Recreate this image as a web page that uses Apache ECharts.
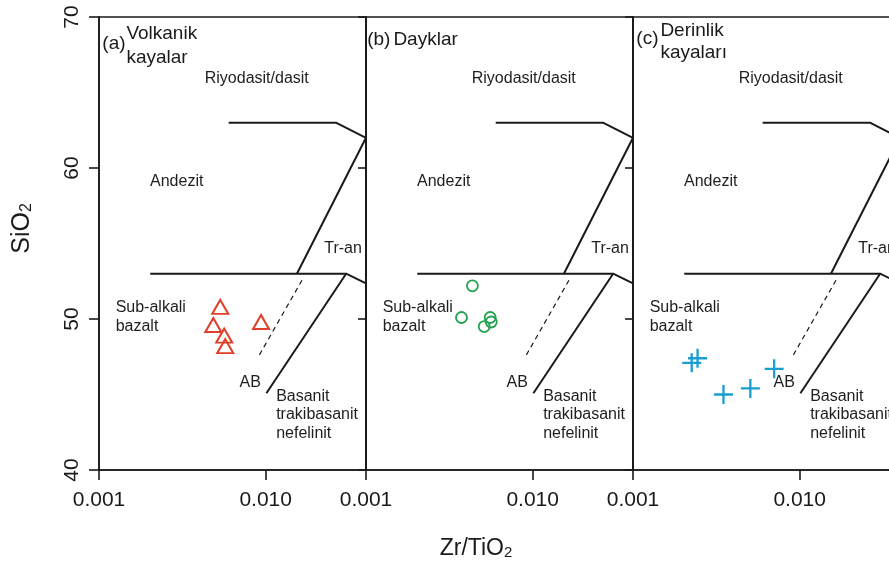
<!DOCTYPE html>
<html>
<head>
<meta charset="utf-8">
<script src="https://cdn.jsdelivr.net/npm/echarts@6/dist/echarts.min.js"></script>
<style>
  html, body { margin: 0; padding: 0; background: #fff; }
  #main { width: 889px; height: 564px; }
</style>
</head>
<body>
<div id="main"></div>
<script>
// Zr/TiO2 - SiO2 diyagramı (Winchester & Floyd), üç panel

// örnek verileri (Zr/TiO2, SiO2)
var volkanikZr = [0.00534, 0.00485, 0.00564, 0.00572, 0.00938];
var volkanikSi = [50.8, 49.6, 48.9, 48.2, 49.8];
var dayklarZr = [0.00435, 0.00374, 0.00556, 0.00564, 0.00512];
var dayklarSi = [52.2, 50.1, 50.1, 49.8, 49.5];
var derinlikZr = [0.00225, 0.00244, 0.00349, 0.00506, 0.00703];
var derinlikSi = [47.1, 47.4, 45.0, 45.4, 46.7];

// sınır çizgileri [Zr/TiO2, SiO2]
var upperLine = [[0.006, 63], [0.0264, 63], [0.04, 62], [0.0154, 53]];
var lowerLine = [[0.00203, 53], [0.0304, 53], [0.04, 52.36]];
var abLine = [[0.0304, 53], [0.0101, 45.08]];
var dashLine = [[0.01652, 52.57], [0.00904, 47.5]];

// alan adları
var regionNames = ['Riyodasit/dasit', 'Andezit', 'Tr-an', 'Sub-alkali', 'bazalt', 'AB', 'Basanit', 'trakibasanit', 'nefelinit'];
var regionZr = [0.00428, 0.00201, 0.0223, 0.00125, 0.00125, 0.00693, 0.01148, 0.01148, 0.01148];
var regionSi = [65.92, 59.08, 54.67, 50.74, 49.48, 45.76, 44.85, 43.64, 42.43];

// panel başlıkları
var panelTitles = [
    [['(a)', 0.00104, 68.26], ['Volkanik', 0.00145, 68.92], ['kayalar', 0.00145, 67.33]],
    [['(b)', 0.00101, 68.5], ['Dayklar', 0.00145, 68.5]],
    [['(c)', 0.00104, 68.57], ['Derinlik', 0.00145, 69.07], ['kayaları', 0.00145, 67.64]]
];

var yTicks = [40, 50, 60, 70];
var xMin = 0.001, xMax = 0.04;

var FONT = '"Liberation Sans", Arial, sans-serif';
var INK = '#1a1a1a';
var panelLeft = [99, 366, 633];

var myChart = echarts.init(document.getElementById('main'), null, {renderer: 'canvas'});

function zip(xs, ys) {
    var out = [];
    for (var i = 0; i < xs.length; i++) {
        out.push([xs[i], ys[i]]);
    }
    return out;
}

var grids = [], xAxes = [], yAxes = [], series = [];

for (var p = 0; p < 3; p++) {
    grids.push({
        left: panelLeft[p], top: 17, width: 267, height: 453,
        show: true, borderColor: INK, borderWidth: 1.6,
        outerBoundsMode: 'none'
    });
    xAxes.push({
        type: 'log', logBase: 10, gridIndex: p,
        min: xMin, max: xMax,
        axisLine: {show: true, lineStyle: {color: INK, width: 1.6}},
        axisTick: {show: true, length: 10, lineStyle: {color: INK, width: 1.6}},
        splitLine: {show: false},
        axisLabel: {
            fontFamily: FONT, fontSize: 21, color: INK, margin: 20,
            showMaxLabel: false,
            formatter: function (v) {
                var l = Math.log10(v);
                return Math.abs(l - Math.round(l)) < 1e-6 ? v.toFixed(3) : '';
            }
        },
        name: p === 1 ? 'Zr/TiO{s|2}' : '',
        nameLocation: 'middle',
        nameGap: 67,
        nameTextStyle: {
            fontFamily: FONT, fontSize: 23, color: INK, padding: [0, 47, 0, 0],
            rich: {s: {fontFamily: FONT, fontSize: 15, lineHeight: 10, verticalAlign: 'bottom', color: INK}}
        }
    });
    yAxes.push({
        type: 'value', gridIndex: p,
        min: 40, max: 70, interval: 10,
        axisLine: {show: true, lineStyle: {color: INK, width: 1.6}},
        axisTick: {show: true, length: p === 0 ? 10 : 8, lineStyle: {color: INK, width: 1.6}},
        splitLine: {show: false},
        axisLabel: {
            show: p === 0, rotate: 90, fontFamily: FONT, fontSize: 21, color: INK, margin: 16,
            formatter: function (v) { return yTicks.indexOf(v) >= 0 ? String(v) : ''; }
        },
        name: p === 0 ? 'SiO{s|2}' : '',
        nameLocation: 'middle',
        nameRotate: 90,
        nameGap: 64,
        nameTextStyle: {
            fontFamily: FONT, fontSize: 25, color: INK, padding: [0, 0, 0, 30],
            rich: {s: {fontFamily: FONT, fontSize: 16, lineHeight: 12, verticalAlign: 'bottom', color: INK}}
        }
    });

    // sınır çizgileri
    [upperLine, lowerLine, abLine].forEach(function (ln) {
        series.push({
            type: 'line', xAxisIndex: p, yAxisIndex: p, data: ln,
            symbol: 'none', silent: true, animation: false,
            lineStyle: {color: INK, width: 2}
        });
    });
    series.push({
        type: 'line', xAxisIndex: p, yAxisIndex: p, data: dashLine,
        symbol: 'none', silent: true, animation: false,
        lineStyle: {color: INK, width: 1.2, type: [5, 4]}
    });

    // alan adları
    series.push({
        type: 'scatter', xAxisIndex: p, yAxisIndex: p, silent: true, animation: false,
        symbolSize: 1, itemStyle: {color: 'transparent', opacity: 1},
        data: regionNames.map(function (n, k) { return {name: n, value: [regionZr[k], regionSi[k]]}; }),
        label: {
            show: true, position: 'right', distance: 0, formatter: '{b}',
            fontFamily: FONT, fontSize: 16, color: '#1e1e1e'
        }
    });
    // panel başlığı
    series.push({
        type: 'scatter', xAxisIndex: p, yAxisIndex: p, silent: true, animation: false,
        symbolSize: 1, itemStyle: {color: 'transparent', opacity: 1},
        data: panelTitles[p].map(function (t) { return {name: t[0], value: [t[1], t[2]]}; }),
        label: {
            show: true, position: 'right', distance: 0, formatter: '{b}',
            fontFamily: FONT, fontSize: 19, color: INK
        }
    });
}

// örnekler
series.push({
    name: 'Volkanik kayalar', type: 'scatter', xAxisIndex: 0, yAxisIndex: 0,
    data: zip(volkanikZr, volkanikSi), symbol: 'triangle', symbolSize: [16, 14],
    itemStyle: {color: 'transparent', borderColor: '#e0402a', borderWidth: 2, opacity: 1}, animation: false
});
series.push({
    name: 'Dayklar', type: 'scatter', xAxisIndex: 1, yAxisIndex: 1,
    data: zip(dayklarZr, dayklarSi), symbol: 'circle', symbolSize: 11,
    itemStyle: {color: 'transparent', borderColor: '#22a24f', borderWidth: 1.8, opacity: 1}, animation: false
});
series.push({
    name: 'Derinlik kayaları', type: 'scatter', xAxisIndex: 2, yAxisIndex: 2,
    data: zip(derinlikZr, derinlikSi), symbol: 'path://M0,10L20,10M10,0L10,20', symbolSize: 19,
    itemStyle: {color: 'transparent', borderColor: '#1a9dd1', borderWidth: 2.3, opacity: 1}, animation: false
});

var option = {
    backgroundColor: '#fff',
    animation: false,
    grid: grids,
    xAxis: xAxes,
    yAxis: yAxes,
    series: series
};

myChart.setOption(option);
</script>
</body>
</html>
